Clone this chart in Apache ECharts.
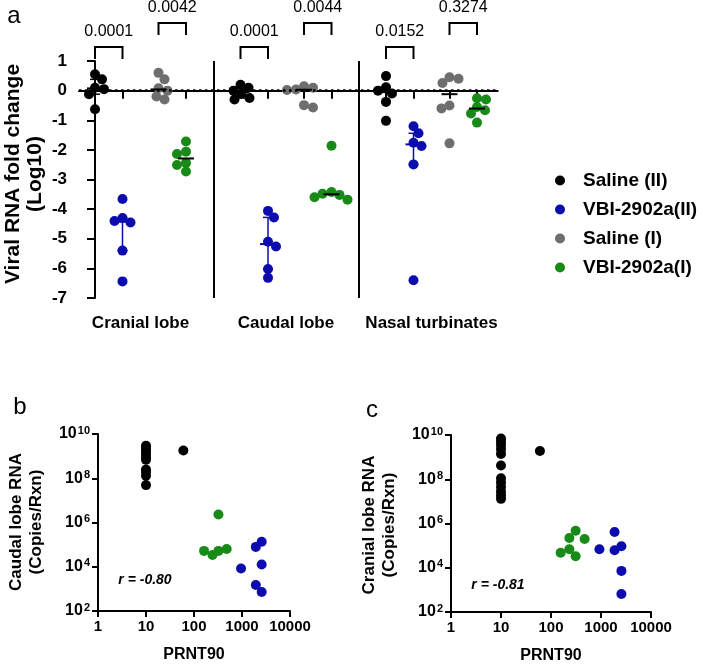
<!DOCTYPE html>
<html><head><meta charset="utf-8">
<script src="https://cdn.jsdelivr.net/npm/echarts@6/dist/echarts.min.js"></script>
<style>html,body{margin:0;padding:0;background:#fff}#c{width:703px;height:667px}</style>
</head><body><div id="c"></div><script>
// ---------------- DATA ----------------
const tissues = ['Cranial lobe', 'Caudal lobe', 'Nasal turbinates'];
const groups = ['Saline (II)', 'VBI-2902a(II)', 'Saline (I)', 'VBI-2902a(I)'];
// Panel a: viral RNA fold change (log10), one row per tissue
const salineII = [
  [0.55, 0.38, 0.10, 0.05, -0.12, -0.63],
  [0.20, 0.10, 0.00, -0.10, -0.25, -0.30],
  [0.49, 0.11, 0.00, -0.10, -0.38, -1.02]
];
const vbiII = [
  [-3.66, -4.30, -4.40, -4.45, -5.40, -6.44],
  [-4.06, -4.28, -5.10, -5.26, -6.02, -6.32],
  [-1.20, -1.44, -1.76, -1.87, -2.49, -6.40]
];
const salineI = [
  [0.60, 0.38, 0.08, 0.00, -0.20, -0.30],
  [0.15, 0.10, 0.04, 0.02, -0.49, -0.57],
  [0.45, 0.40, 0.26, -0.50, -0.60, -1.78]
];
const vbiI = [
  [-1.72, -2.06, -2.14, -2.44, -2.51, -2.73],
  [-1.86, -3.42, -3.48, -3.52, -3.60, -3.68],
  [-0.26, -0.30, -0.55, -0.66, -0.77, -1.08]
];
const pValuesII = ['0.0001', '0.0001', '0.0152']; // Saline(II) vs VBI-2902a(II)
const pValuesI  = ['0.0042', '0.0044', '0.3274']; // Saline(I) vs VBI-2902a(I)

// Panel b: caudal lobe RNA vs PRNT90
const bSalinePRNT = [10, 10, 10, 10, 10, 10, 10, 10, 10, 10, 60];
const bSalineRNA  = [2.95e9, 2.24e9, 1.66e9, 1.26e9, 8.9e8, 6.8e8, 2.5e8, 1.9e8, 1.3e8, 4.9e7, 1.8e9];
const bVbiIPRNT   = [323, 162, 243, 323, 480];
const bVbiIRNA    = [2.3e6, 5.2e4, 3.4e4, 5.2e4, 6.3e4];
const bVbiIIPRNT  = [955, 1940, 2570, 2570, 1940, 2570];
const bVbiIIRNA   = [8.3e3, 7.9e4, 1.35e5, 1.26e4, 1.5e3, 7.2e2];
const bR = 'r = -0.80';

// Panel c: cranial lobe RNA vs PRNT90
const cSalinePRNT = [10, 10, 10, 10, 10, 10, 10, 10, 10, 10, 10, 10, 60];
const cSalineRNA  = [6.9e9, 5.0e9, 3.5e9, 2.3e9, 1.4e9, 4.2e8, 1.1e8, 7.1e7, 4.5e7, 2.8e7, 1.9e7, 1.3e7, 1.9e9];
const cVbiIPRNT   = [156, 233, 233, 311, 311, 470];
const cVbiIRNA    = [4.8e4, 2.2e5, 6.8e4, 3.3e4, 4.7e5, 2.0e5];
const cVbiIIPRNT  = [930, 1870, 1870, 2560, 2560, 2560];
const cVbiIIRNA   = [6.8e4, 4.1e5, 6.2e4, 9.3e4, 7.2e3, 6.5e2];
const cR = 'r = -0.81';

// ---------------- LAYOUT / STYLE ----------------
const FONT = '"Liberation Sans", Arial, Helvetica, sans-serif';
const colors = ['#000000', '#0c0cae', '#6e6e6e', '#188a18'];
const groupData = [salineII, vbiII, salineI, vbiI];
const COL_OFF = [0, 27.5, 63.5, 91], STEP = 145.5;
const X_MIN = -16, X_MAX = 402.7;
const gridA = {left: 79, top: 61, width: 418.7, height: 237};
const pxX = gridA.width / (X_MAX - X_MIN), pxY = gridA.height / 8;
const colX = (t, g) => t * STEP + COL_OFF[g];

function swarm(vals, D) {
  const order = vals.map((v, i) => i).sort((a, b) => vals[b] - vals[a]);
  const placed = [], off = new Array(vals.length).fill(0);
  order.forEach((i, n) => {
    let best = 0;
    outer: for (let k = 0; k < 80; k++) {
      const c = k === 0 ? [0] : (n % 2 ? [k, -k] : [-k, k]);
      for (const dx of c) {
        if (placed.every(p => { const a = dx - p.dx, b = (vals[i] - p.v) * pxY; return a * a + b * b >= D * D; })) { best = dx; break outer; }
      }
    }
    placed.push({dx: best, v: vals[i]});
    off[i] = best / pxX;
  });
  return off;
}
const med = s => { const n = s.length, h = Math.floor(n / 2); return n % 2 ? s[h] : (s[h - 1] + s[h]) / 2; };
// hinges: medians of lower and upper halves
function hinges(s) {
  const n = s.length, h = Math.floor(n / 2);
  return [med(s.slice(0, h)), med(s.slice(n % 2 ? h + 1 : h))];
}

const series = [];
groups.forEach((name, g) => {
  const pts = [];
  const summ = [];
  groupData[g].forEach((vals, t) => {
    const offs = swarm(vals, 8.5);
    vals.forEach((v, i) => pts.push([colX(t, g) + offs[i], v]));
    const s = vals.slice().sort((a, b) => a - b);
    const hq = hinges(s);
    summ.push([colX(t, g), med(s), hq[0], hq[1]]);
  });
  series.push({
    type: 'scatter', name, xAxisIndex: 0, yAxisIndex: 0, symbolSize: 10,
    itemStyle: {color: colors[g], opacity: 1}, data: pts, z: 2,
    markLine: g === 0 ? {
      silent: true, symbol: 'none', label: {show: false},
      lineStyle: {color: '#000', width: 2, type: [2, 4]},
      data: [
        {yAxis: 0, lineStyle: {color: '#000', width: 2.5, type: [2.5, 3.5]}},
        {xAxis: (COL_OFF[3] + STEP) / 2, lineStyle: {color: '#000', width: 2, type: 'solid'}},
        {xAxis: STEP + (COL_OFF[3] + STEP) / 2, lineStyle: {color: '#000', width: 2, type: 'solid'}}
      ]
    } : undefined
  });
  const err = g < 2;
  const lc = g < 2 ? colors[g] : '#000';
  series.push({
    type: 'custom', xAxisIndex: 0, yAxisIndex: 0, z: 3, silent: true, data: summ,
    renderItem: (params, api) => {
      const x = api.value(0);
      const pm = api.coord([x, api.value(1)]);
      const ch = [{type: 'line', shape: {x1: pm[0] - 8, y1: pm[1], x2: pm[0] + 8, y2: pm[1]}, style: {stroke: lc, lineWidth: 2}}];
      if (err) {
        const pl = api.coord([x, api.value(2)]), ph = api.coord([x, api.value(3)]);
        ch.push({type: 'line', shape: {x1: pm[0], y1: pl[1], x2: pm[0], y2: ph[1]}, style: {stroke: lc, lineWidth: 1.5}});
        ch.push({type: 'line', shape: {x1: pm[0] - 5, y1: pl[1], x2: pm[0] + 5, y2: pl[1]}, style: {stroke: lc, lineWidth: 1.5}});
        ch.push({type: 'line', shape: {x1: pm[0] - 5, y1: ph[1], x2: pm[0] + 5, y2: ph[1]}, style: {stroke: lc, lineWidth: 1.5}});
      }
      return {type: 'group', children: ch};
    }
  });
});
// significance brackets
const brData = [];
tissues.forEach((t, ti) => {
  brData.push([colX(ti, 0), 0, colX(ti, 1), 0]);
  brData.push([colX(ti, 2), 0, colX(ti, 3), 1]);
});
series.push({
  type: 'custom', xAxisIndex: 0, yAxisIndex: 0, clip: false, silent: true, z: 4, data: brData,
  renderItem: (params, api) => {
    const top = api.coord([0, 1])[1];
    const x1 = api.coord([api.value(0), 0])[0], x2 = api.coord([api.value(2), 0])[0];
    const p = api.value(3);
    const ti = Math.floor(params.dataIndex / 2);
    const yTop = p ? top - 38 : top - 14, yLeg = p ? top - 26 : top - 2, yTxt = p ? top - 53 : top - 29;
    const txt = p ? pValuesI[ti] : pValuesII[ti];
    return {type: 'group', children: [
      {type: 'polyline', shape: {points: [[x1, yLeg], [x1, yTop], [x2, yTop], [x2, yLeg]]}, style: {stroke: '#000', lineWidth: 2, fill: null}},
      {type: 'text', style: {text: txt, x: (x1 + x2) / 2, y: yTxt, align: 'center', verticalAlign: 'middle', textAlign: 'center', textVerticalAlign: 'middle', font: `16px ${FONT}`, fill: '#000'}}
    ]};
  }
});
// panels b and c (log10 of values placed on value axes)
const pairLog = (xs, ys) => xs.map((x, i) => [Math.log10(x), Math.log10(ys[i])]);
[[bSalinePRNT, bSalineRNA, 0], [bVbiIPRNT, bVbiIRNA, 3], [bVbiIIPRNT, bVbiIIRNA, 1]].forEach(([xs, ys, ci]) => {
  series.push({type: 'scatter', name: 'b' + ci, xAxisIndex: 1, yAxisIndex: 1, symbolSize: 10, itemStyle: {color: colors[ci], opacity: 1}, data: pairLog(xs, ys)});
});
[[cSalinePRNT, cSalineRNA, 0], [cVbiIPRNT, cVbiIRNA, 3], [cVbiIIPRNT, cVbiIIRNA, 1]].forEach(([xs, ys, ci]) => {
  series.push({type: 'scatter', name: 'c' + ci, xAxisIndex: 2, yAxisIndex: 2, symbolSize: 10, itemStyle: {color: colors[ci], opacity: 1}, data: pairLog(xs, ys)});
});

const axLine = {show: true, lineStyle: {color: '#000', width: 2}};
const tick = (len) => ({show: true, length: len, lineStyle: {color: '#000', width: 2}});
const groupCenters = tissues.map((t, i) => i * STEP + (COL_OFF[0] + COL_OFF[3]) / 2);
const tickPos = [];
tissues.forEach((t, i) => COL_OFF.forEach((o, g) => tickPos.push(colX(i, g))));
const logX = (gi) => ({
  gridIndex: gi, type: 'value', min: 0, max: 4, interval: 1,
  axisLine: axLine, axisTick: tick(6), splitLine: {show: false},
  axisLabel: {color: '#000', fontWeight: 'bold', fontSize: 15, fontFamily: FONT, margin: 8,
              formatter: v => String(Math.round(Math.pow(10, v)))},
  name: 'PRNT90', nameLocation: 'middle', nameGap: 36,
  nameTextStyle: {color: '#000', fontWeight: 'bold', fontSize: 16, fontFamily: FONT}
});
const logY = (gi) => ({
  gridIndex: gi, type: 'value', min: 2, max: 10, interval: 2,
  axisLine: axLine, axisTick: tick(6), splitLine: {show: false},
  axisLabel: {
    margin: 8, formatter: v => '{b|10}{s|' + Math.round(v) + '}',
    rich: {
      b: {color: '#000', fontWeight: 'bold', fontSize: 16, fontFamily: FONT},
      s: {color: '#000', fontWeight: 'bold', fontSize: 11, fontFamily: FONT, verticalAlign: 'top', padding: [0, 0, 7, 1]}
    }
  }
});
const txt = (text, x, y, font, rot) => ({
  type: 'text', x, y, rotation: rot || 0,
  style: {text, x: 0, y: 0, align: 'center', verticalAlign: 'middle', textAlign: 'center', textVerticalAlign: 'middle', font, fill: '#000'}
});
const R = Math.PI / 2;

const option = {
  backgroundColor: '#fff',
  animation: false,
  grid: [
    gridA,
    {left: 98, top: 434, width: 192, height: 177},
    {left: 451, top: 435, width: 200, height: 177}
  ],
  xAxis: [
    {gridIndex: 0, type: 'value', min: X_MIN, max: X_MAX,
     axisLine: axLine, axisTick: Object.assign(tick(8), {customValues: tickPos}), splitLine: {show: false},
     axisLabel: {customValues: groupCenters, formatter: v => tissues[groupCenters.findIndex(c => Math.abs(c - v) < 1)] || '',
                 color: '#000', fontWeight: 'bold', fontSize: 17, fontFamily: FONT, margin: 17}},
    logX(1), logX(2)
  ],
  yAxis: [
    {gridIndex: 0, type: 'value', min: -7, max: 1, interval: 1,
     axisLine: axLine, axisTick: tick(8), splitLine: {show: false},
     axisLabel: {color: '#000', fontWeight: 'bold', fontSize: 17, fontFamily: FONT, margin: 12}},
    logY(1), logY(2)
  ],
  legend: {
    data: groups, orient: 'vertical', left: 550, top: 166, itemWidth: 10, itemHeight: 10, itemGap: 10,
    icon: 'circle', selectedMode: false,
    textStyle: {fontSize: 19, fontWeight: 'bold', color: '#000', fontFamily: FONT, padding: [0, 0, 0, 13]}
  },
  graphic: [
    txt('a', 14, 16, `24px ${FONT}`),
    txt('b', 20, 407, `24px ${FONT}`),
    txt('c', 372, 410, `24px ${FONT}`),
    txt('Viral RNA fold change', 13, 174, `bold 21px ${FONT}`, R),
    txt('(Log10)', 35, 174, `bold 21px ${FONT}`, R),
    txt('Caudal lobe RNA', 16, 522, `bold 17px ${FONT}`, R),
    txt('(Copies/Rxn)', 36, 522, `bold 17px ${FONT}`, R),
    txt('Cranial lobe RNA', 369, 525, `bold 17px ${FONT}`, R),
    txt('(Copies/Rxn)', 389, 525, `bold 17px ${FONT}`, R),
    txt(bR, 145, 580, `italic bold 14px ${FONT}`),
    txt(cR, 498, 585, `italic bold 14px ${FONT}`)
  ],
  series
};
const chart = echarts.init(document.getElementById('c'));
chart.setOption(option);
</script></body></html>
